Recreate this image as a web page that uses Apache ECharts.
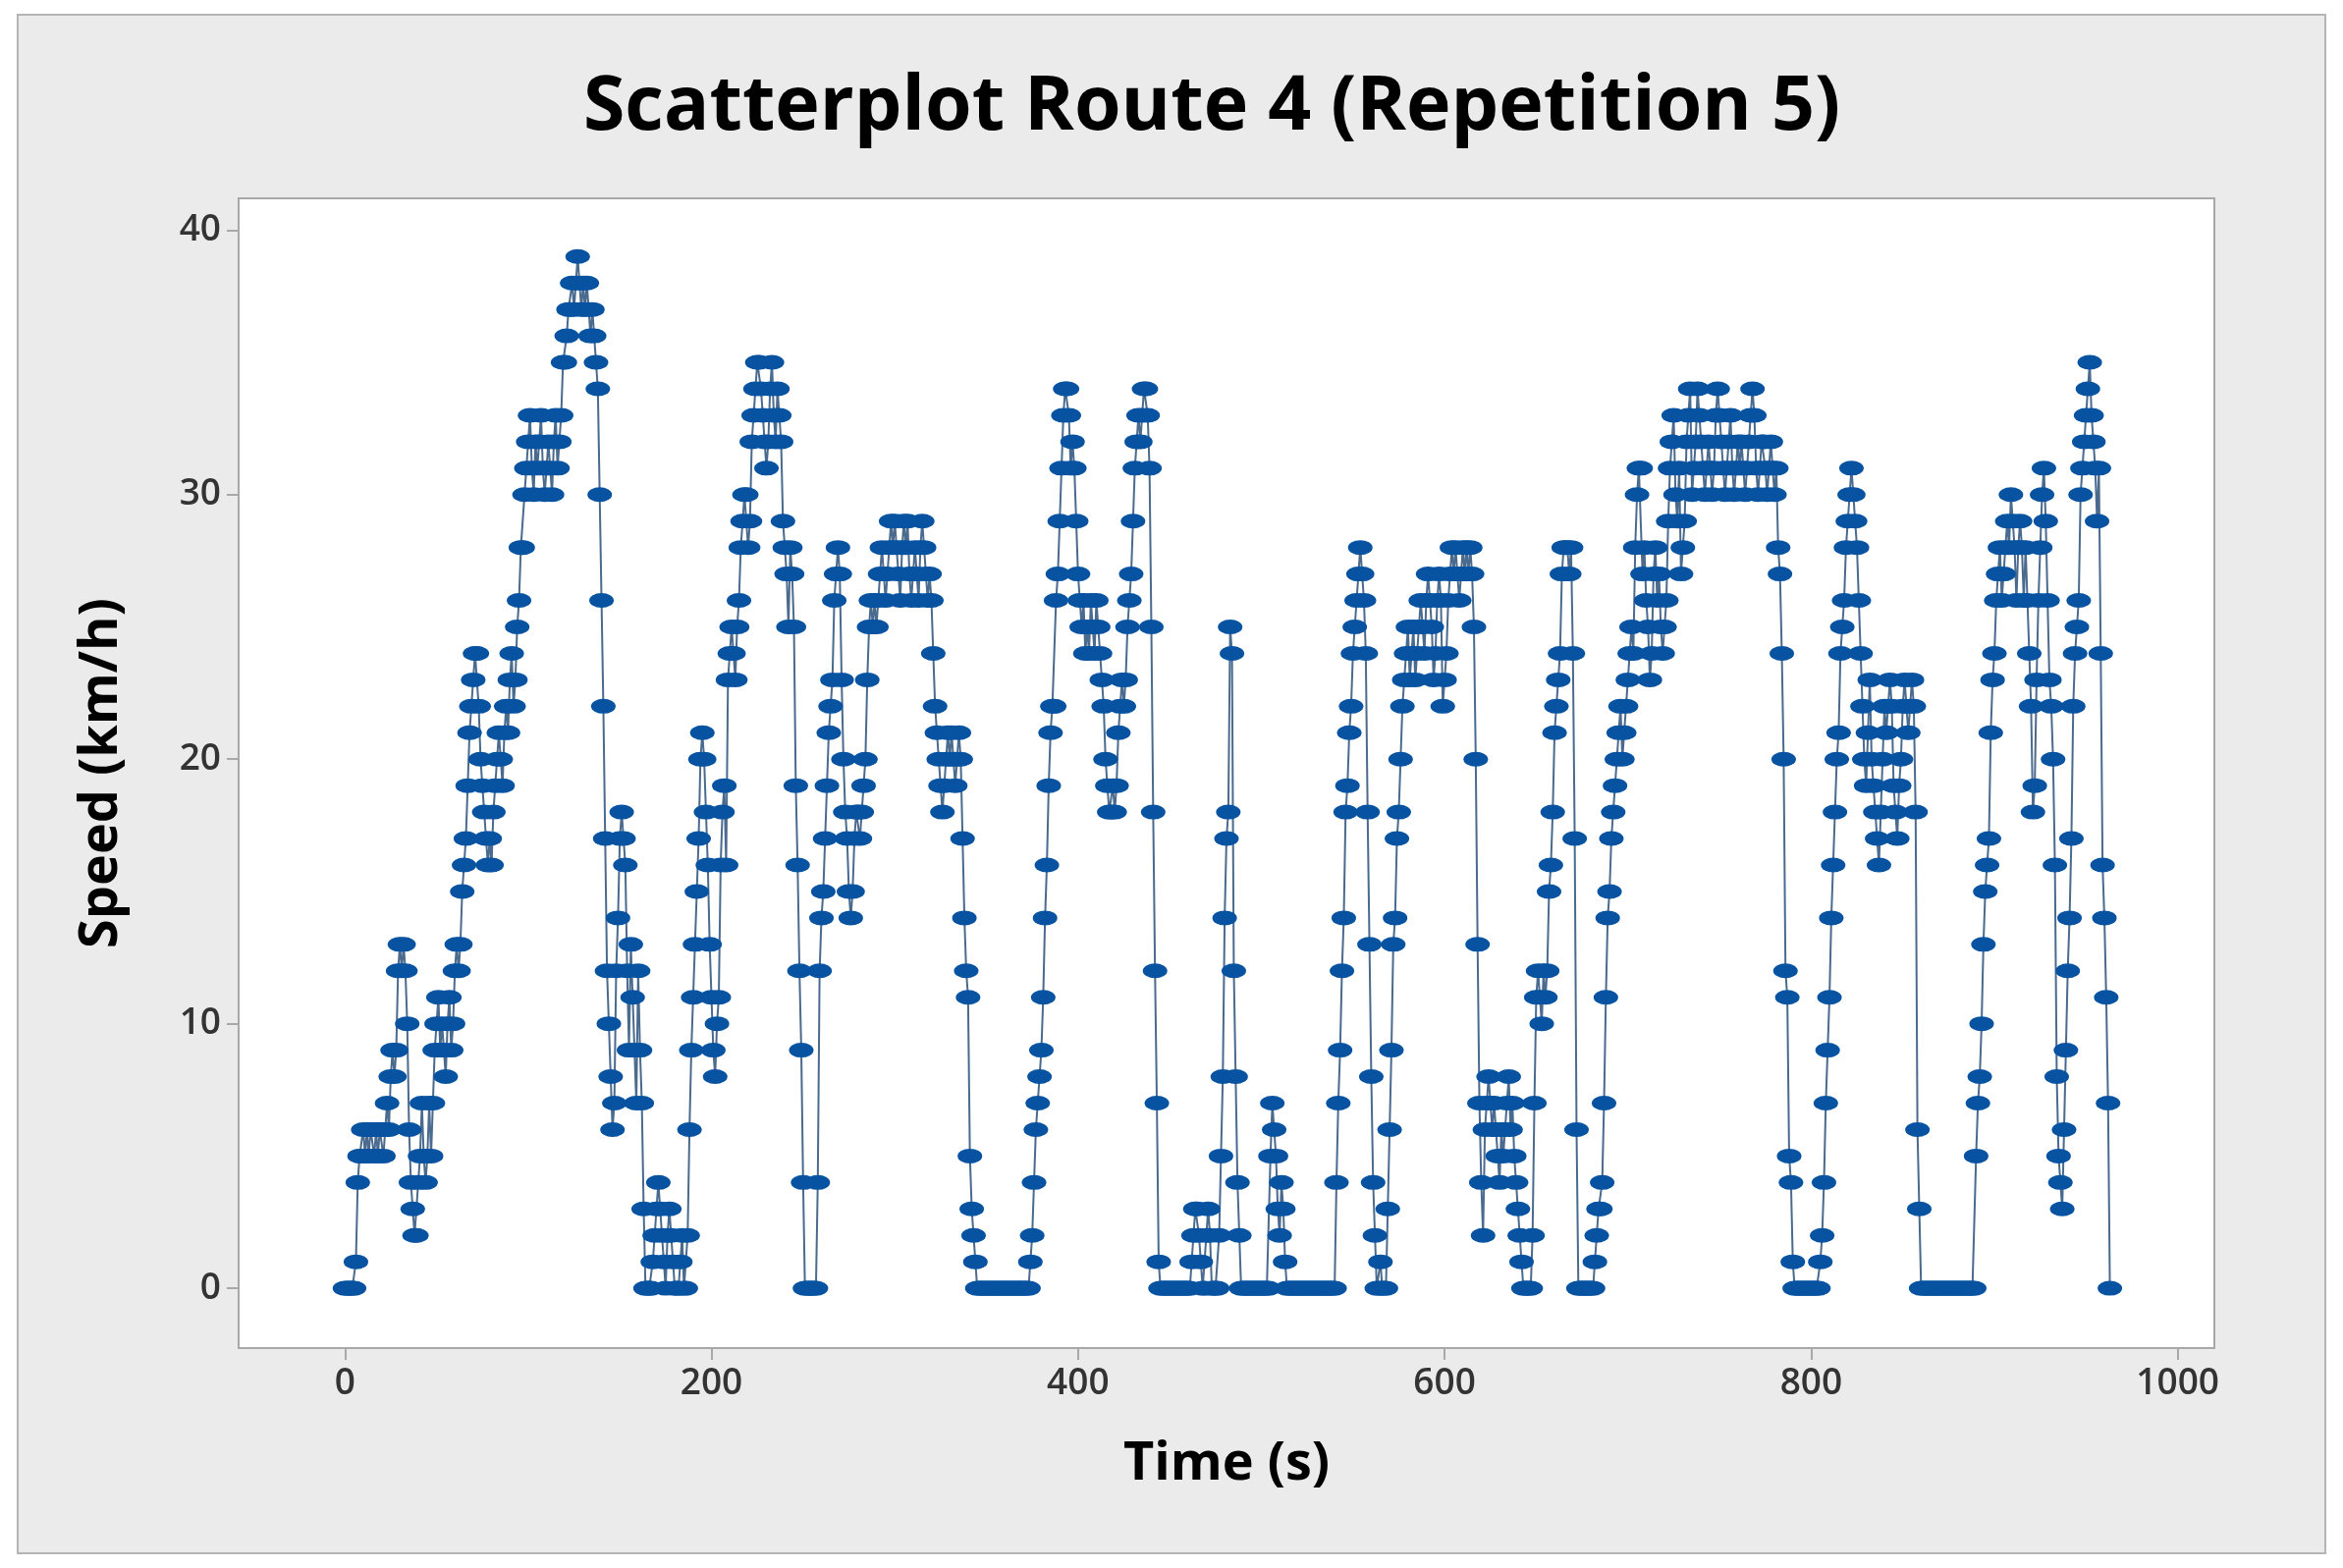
<!DOCTYPE html>
<html><head><meta charset="utf-8">
<script src="https://cdn.jsdelivr.net/npm/echarts@6/dist/echarts.min.js"></script>
<style>html,body{margin:0;padding:0;background:#fff}#c{width:2386px;height:1597px}</style>
</head><body><div id="c"></div>
<script>
const titleText = 'Scatterplot Route 4 (Repetition 5)';
const xTicks = [0,200,400,600,800,1000];
const yTicks = [0,10,20,30,40];
const speeds = [
0,0,0,0,0,0,1,
4,5,5,6,5,6,5,6,6,5,6,5,6,6,5,6,7,6,8,9,8,
9,12,13,12,13,12,10,6,
4,3,2,2,4,5,7,5,4,5,7,5,
7,9,10,11,9,10,9,8,10,11,9,10,12,13,
12,13,15,16,17,19,21,22,23,24,24,
22,20,19,18,17,16,17,16,18,19,20,21,20,19,21,
22,21,23,24,22,23,25,26,28,28,30,31,32,
33,31,30,32,31,32,33,31,30,31,32,31,30,32,33,31,32,33,35,35,36,37,
37,38,37,38,39,38,37,38,37,38,37,36,37,36,35,34,30,26,22,17,12,10,8,
6,7,12,14,17,18,17,16,12,9,13,11,9,7,12,9,7,3,0,
0,0,0,1,2,3,4,3,2,1,0,2,3,2,1,0,0,0,1,2,0,0,2,6,9,11,13,
15,17,20,21,20,18,16,13,11,9,8,10,11,16,18,19,16,23,24,25,24,23,25,26,28,
29,30,30,28,29,32,33,34,35,35,34,33,32,31,32,34,35,33,32,34,33,32,29,28,27,25,28,27,25,19,16,12,9,4,
0,0,0,0,0,0,0,4,12,14,15,17,
19,21,22,23,26,27,28,27,23,20,18,17,15,14,15,17,18,18,17,18,19,20,23,25,26,25,26,25,26,27,28,
27,26,27,28,29,28,29,28,27,26,28,29,28,29,27,26,27,28,27,26,28,29,28,27,26,27,
26,24,22,21,20,19,18,19,20,21,20,21,20,19,20,21,20,
17,14,12,11,5,3,2,1,0,0,0,0,0,0,0,0,0,0,0,0,
0,0,0,0,0,0,0,0,0,0,0,0,0,0,0,0,0,
1,2,4,6,7,8,9,11,14,16,19,21,22,22,26,27,29,31,33,34,34,33,31,32,31,29,
27,26,25,26,24,25,24,26,25,24,26,25,24,23,22,20,19,18,18,19,18,19,21,22,23,22,23,25,
26,27,29,31,32,33,32,33,34,34,33,31,25,18,12,7,1,0,0,0,0,0,0,0,
0,0,0,0,0,0,0,0,0,0,1,2,3,3,2,1,0,0,2,3,2,0,0,0,0,2,5,8,14,17,
18,25,24,12,8,4,2,0,0,0,0,0,0,0,0,0,0,0,0,0,0,0,0,
5,7,6,5,3,2,4,3,1,0,
0,0,0,0,0,0,0,0,0,0,0,0,0,0,0,0,0,0,0,0,0,0,0,0,0,0,
4,7,9,12,14,18,19,21,22,24,25,26,27,28,27,26,24,18,13,8,4,2,0,0,1,0,0,0,3,
6,9,13,14,17,18,20,22,23,24,25,23,24,25,23,24,25,26,25,24,26,27,26,25,23,24,26,27,26,22,
23,24,26,27,28,27,28,27,26,27,28,27,28,27,28,27,25,20,13,7,4,2,6,7,8,7,6,7,6,5,
4,6,5,6,7,8,6,7,5,4,3,2,1,0,0,0,0,0,2,7,
11,12,11,10,12,11,12,15,16,18,21,22,23,24,27,28,28,28,27,28,
24,17,6,0,0,0,0,0,0,0,0,0,1,2,3,3,4,7,11,14,
15,17,18,19,20,21,22,20,21,22,23,24,25,24,28,30,31,31,27,28,26,25,23,24,27,28,26,27,25,24,
25,26,29,31,32,33,30,29,31,27,28,29,32,33,34,30,31,32,34,33,32,31,30,31,32,31,30,31,33,34,
33,32,31,30,31,32,33,31,30,31,32,31,
32,31,30,31,32,33,34,33,31,30,31,32,
32,31,30,31,32,31,30,31,28,27,24,20,12,11,5,4,1,0,0,0,0,0,0,0,0,
0,0,0,0,0,0,1,2,4,7,
9,11,14,16,18,20,21,24,25,26,28,29,30,31,30,29,28,26,24,22,20,19,21,23,20,19,18,17,16,18,
20,22,21,22,23,22,19,18,17,19,20,22,23,22,21,22,23,22,18,6,3,0,0,0,0,0,0,0,
0,0,0,0,0,0,0,0,0,0,0,0,0,0,0,0,0,0,0,0,0,0,0,
5,7,8,10,13,15,16,17,21,23,24,26,27,28,26,27,28,29,28,30,29,28,26,28,29,28,26,28,26,24,22,18,
19,23,26,28,30,31,29,26,23,22,20,16,8,5,4,3,6,9,12,14,17,
22,24,25,26,30,31,32,33,34,35,33,32,31,29,31,24,16,14,11,7,0
];
const times = speeds.map((v,i)=>i);
const chart = echarts.init(document.getElementById('c'));
const F = '"Open Sans", "Noto Sans", sans-serif';
chart.setOption({
  backgroundColor:'#ffffff',
  animation:false,
  graphic:[{type:'rect',z:-10,shape:{x:18,y:15,width:2350,height:1567},style:{fill:'#ebebeb',stroke:'#b5b5b5',lineWidth:2}}],
  title:{text:titleText,left:1229,textAlign:'center',top:67,textStyle:{fontFamily:F,fontSize:77,fontWeight:'bold',color:'#000'}},
  grid:{left:243,right:131,top:202,bottom:224,show:true,backgroundColor:'#fff',borderColor:'#a8a8a8',borderWidth:2},
  xAxis:{type:'value',min:-58,max:1020,name:'Time (s)',nameLocation:'middle',nameGap:92,
    nameTextStyle:{fontFamily:F,fontSize:54,fontWeight:'bold',color:'#000'},
    axisLine:{onZero:false,lineStyle:{color:'#a8a8a8',width:2}},
    axisTick:{show:true,customValues:xTicks,length:12,lineStyle:{color:'#a8a8a8',width:2}},
    axisLabel:{customValues:xTicks,formatter:v=>String(v),fontFamily:F,fontSize:37,fontWeight:600,color:'#333',margin:18},
    splitLine:{show:false}},
  yAxis:{type:'value',min:-2.26,max:41.2,name:'Speed (km/h)',nameLocation:'middle',nameGap:112,
    nameTextStyle:{fontFamily:F,fontSize:54,fontWeight:'bold',color:'#000'},
    axisLine:{show:true,onZero:false,lineStyle:{color:'#a8a8a8',width:2}},
    axisTick:{show:true,customValues:yTicks,length:12,lineStyle:{color:'#a8a8a8',width:2}},
    axisLabel:{customValues:yTicks,formatter:v=>String(v),fontFamily:F,fontSize:37,fontWeight:600,color:'#333',margin:18},
    splitLine:{show:false}},
  series:[{type:'line',data:times.map((t,i)=>[t,speeds[i]]),
    symbol:'circle',symbolSize:[25,15],showAllSymbol:true,
    itemStyle:{color:'#0753a1'},lineStyle:{color:'#4a6a8e',width:2}}]
});
</script></body></html>
